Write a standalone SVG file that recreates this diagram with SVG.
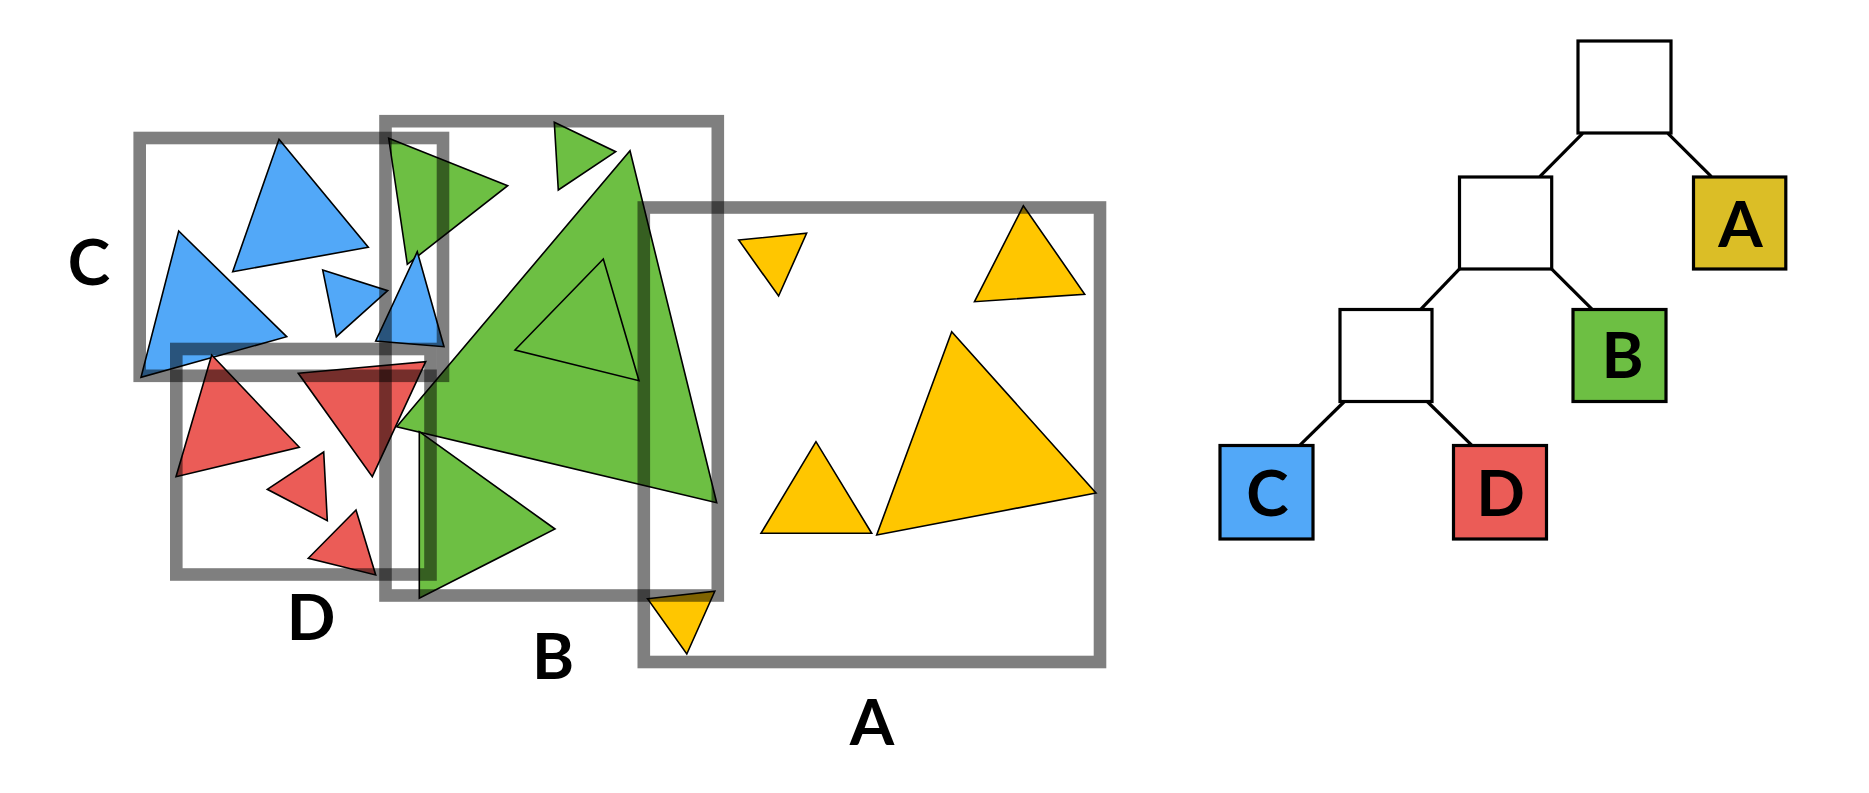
<svg xmlns="http://www.w3.org/2000/svg" width="1869" height="793" viewBox="0 0 1869 793">
<style>
.tri{stroke:#000;stroke-width:1.6;stroke-linejoin:miter}
.b{fill:#52A8F8}.r{fill:#EB5C57}.g{fill:#6DBF43}.y{fill:#FFC600}
.box{fill:none;stroke:#000;stroke-opacity:0.5;stroke-width:12.6}
.lbl{font-family:Lato,"Open Sans","Liberation Sans",sans-serif;font-weight:700;font-size:64px;fill:#000;text-anchor:middle}
.node{stroke:#000;stroke-width:3.2}
.edge{stroke:#000;stroke-width:3.2;fill:none}
</style>
<rect width="1869" height="793" fill="#fff"/>
<g id="scene">
<g id="tris-C">
<polygon class="tri b" points="279,139.3 368.3,247.3 232.7,271.7"/>
<polygon class="tri b" points="178.7,231 286.7,336.7 141,377.3"/>
<polygon class="tri b" points="322.7,270 387.7,290.7 336.3,336.7"/>
</g>
<g id="tris-D">
<polygon class="tri r" points="211.7,355 299.3,447.3 176,476.7"/>
<polygon class="tri r" points="298.3,373.3 425.7,361.7 372.3,476.7"/>
<polygon class="tri r" points="323.7,452 267.3,489.3 327.3,520.7"/>
<polygon class="tri r" points="356,510 308.3,558.3 375.7,575"/>
</g>
<g id="tris-B">
<polygon class="tri g" points="388.7,138.3 507.7,185.7 407.3,264.3"/>
<polygon class="tri g" points="554.3,122.3 615.7,151.7 558.3,190"/>
<polygon class="tri g" points="630,150.7 716.7,502.7 396.7,426.7"/>
<polygon class="tri g" points="603.3,259 515,350 639,380.7"/>
<polygon class="tri g" points="419.3,431.7 555,529 419.3,598.3"/>
</g>
<polygon class="tri b" points="417.3,251.7 375.7,341 444,346.7"/>
<g id="tris-A">
<polygon class="tri y" points="738.7,240 806.6,233.3 778.6,296"/>
<polygon class="tri y" points="1023.4,205.7 974.5,301.7 1084.7,294.3"/>
<polygon class="tri y" points="816,441.7 761,533.3 871.7,533.3"/>
<polygon class="tri y" points="951.7,331.7 1096,493 876.7,535"/>
<polygon class="tri y" points="647.5,598.7 714.8,591.3 686.8,654"/>
</g>
<g id="bounds">
<rect id="boxC" class="box" x="139.7" y="138" width="303.3" height="237.8"/>
<rect id="boxD" class="box" x="176.3" y="349" width="254.2" height="225.5"/>
<rect id="boxB" class="box" x="385.5" y="121.2" width="332.3" height="474.3"/>
<rect id="boxA" class="box" x="643.8" y="207.5" width="456.2" height="454.5"/>
</g>
<g id="labels">
<text class="lbl" x="89" y="285">C</text>
<text class="lbl" x="311" y="640">D</text>
<text class="lbl" x="553" y="678.5">B</text>
<text class="lbl" x="872" y="745">A</text>
</g>
</g>
<g id="connectors">
<line class="edge" x1="1582.7" y1="133.3" x2="1539.8" y2="176.7"/>
<line class="edge" x1="1667.9" y1="133.3" x2="1711.4" y2="176.7"/>
<line class="edge" x1="1460" y1="268.3" x2="1420.7" y2="309.3"/>
<line class="edge" x1="1551" y1="268.3" x2="1592.2" y2="309.3"/>
<line class="edge" x1="1344.4" y1="401.5" x2="1299.7" y2="445.3"/>
<line class="edge" x1="1427.2" y1="401.5" x2="1471.9" y2="445.3"/>
</g>
<g id="node-root"><rect class="node" x="1578" y="41" width="93" height="92" fill="#fff"/></g>
<g id="node-inner1"><rect class="node" x="1459.5" y="177" width="92.2" height="92" fill="#fff"/></g>
<g id="node-inner2"><rect class="node" x="1340" y="309.5" width="92" height="92" fill="#fff"/></g>
<g id="node-A"><rect class="node" x="1693.5" y="177" width="92.3" height="92" fill="#DBBE26"/><text class="lbl" x="1740.5" y="246.5">A</text></g>
<g id="node-B"><rect class="node" x="1573" y="309.5" width="93" height="92" fill="#6DBF43"/><text class="lbl" x="1622.5" y="378">B</text></g>
<g id="node-C"><rect class="node" x="1220" y="445.5" width="93" height="93.5" fill="#52A8F8"/><text class="lbl" x="1267.5" y="516">C</text></g>
<g id="node-D"><rect class="node" x="1453.5" y="445.5" width="93" height="93.5" fill="#EB5C57"/><text class="lbl" x="1500.5" y="515.5">D</text></g>
</svg>
